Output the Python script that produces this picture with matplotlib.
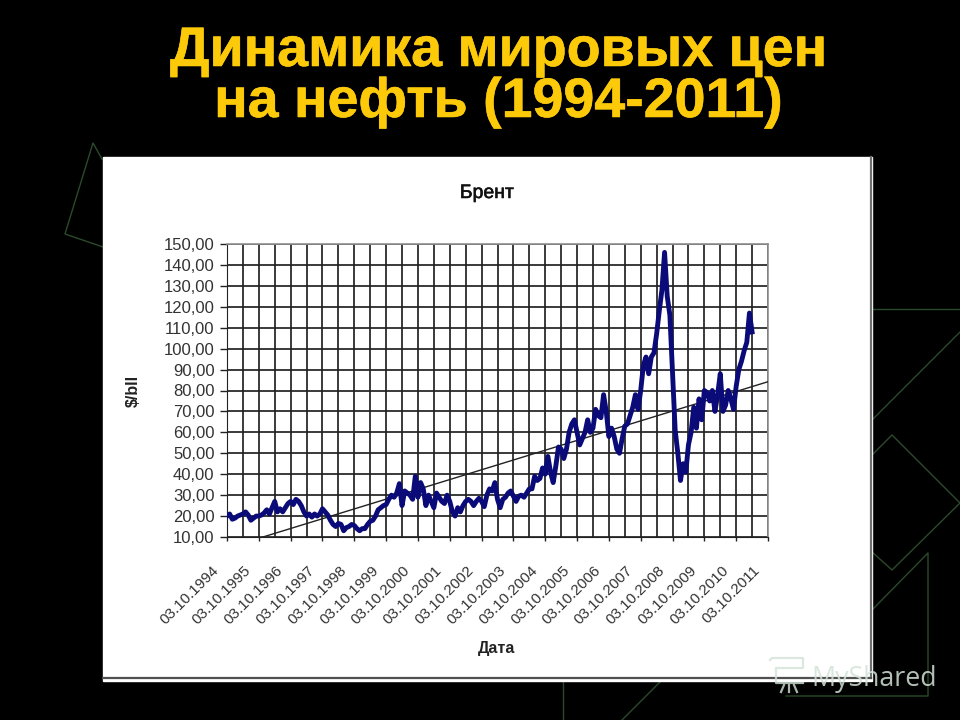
import numpy as np
import matplotlib
matplotlib.use("Agg")
import matplotlib.pyplot as plt
import matplotlib.patheffects as pe
from matplotlib.transforms import ScaledTranslation

plt.rcParams['font.family'] = ['Liberation Sans', 'DejaVu Sans']

title_lines = ["Динамика мировых цен", "на нефть (1994-2011)"]
chart_title = "Брент"
x_title = "Дата"
y_title = "$/bll"

# monthly Brent prices, starting at the first tick
prices = [
    20, 21, 18.5, 19, 20, 20.5, 21, 22, 20.5, 18, 19, 20, 20, 20.5, 21.5, 23, 21, 24, 27, 22,
    23.5, 22, 24, 26, 27, 25.5, 28, 27, 25, 22, 20, 21, 19.5, 21, 20, 21, 23.5, 22, 20.5, 18,
    16, 15, 16.5, 16, 13, 14.5, 15, 16, 15.5, 14, 13, 14, 14, 16, 17.5, 18, 20, 23, 24, 25,
    25.5, 28, 30, 29, 31, 35.5, 25, 32, 31, 30, 28, 39, 29, 36, 33, 25, 30, 27, 24, 31,
    29, 27, 26, 30, 27, 22, 20, 24, 22, 25, 27, 28, 27, 25, 27, 28.5, 27, 24.5, 30, 33,
    32, 36, 28, 24, 28, 29, 31, 32, 29.5, 27, 29.5, 30, 29, 31, 33, 33, 39, 37, 38, 43,
    40, 48.5, 41, 36, 44, 53, 52, 47.5, 52, 60, 64, 66, 60, 54, 57, 60, 66, 60, 62, 71,
    68, 67, 78, 70, 58, 62, 58, 52, 50, 57, 63, 64, 68, 72, 78, 71, 80, 92, 96, 88,
    96, 98, 107, 118, 128, 146, 125, 116, 88, 61, 50, 37, 45, 41, 54, 60, 72, 62, 76, 66,
    80, 79, 75, 80, 70, 78, 88, 70, 73, 80, 76, 71, 82, 90, 94, 99, 103, 117, 108,
]
start_year = 1994.75
trend_years = [1995.88, 2011.75]
trend_values = [10, 84.2]

y_ticks = list(range(10, 151, 10))
y_labels = ["%d,00" % v for v in y_ticks]
tick_years = [1994.75 + i for i in range(18)]
x_labels = ["03.10.%d" % (1994 + i) for i in range(18)]

W, H = 960, 720
fig = plt.figure(figsize=(W / 100, H / 100), dpi=100, facecolor='black')

# slide background in pixel coordinates
bg = fig.add_axes([0, 0, 1, 1])
bg.set_xlim(0, W)
bg.set_ylim(H, 0)
bg.axis('off')

dim_green = '#2b4a2b'
decor = [
    ([102, 93, 65, 103], [159, 143, 234, 247]),
    ([872, 960], [309, 309]),
    ([872, 960], [420, 332]),
    ([872, 892, 960, 892, 872], [455, 435, 503, 570, 552]),
    ([872, 928, 928, 786], [610, 553, 696, 696]),
    ([563, 563], [680, 720]),
    ([662, 622], [680, 720]),
]
for xs, ys in decor:
    bg.plot(xs, ys, color=dim_green, lw=1)

bg.fill([103, 872, 872, 103], [157, 157, 681, 681], color='white', zorder=2)
bg.plot([870.5, 870.5], [157, 678], color='#707070', lw=1.6, zorder=3)
bg.plot([103, 871], [677.5, 677.5], color='#505050', lw=1.6, zorder=3)

yellow = '#fdca0a'
for line, base in zip(title_lines, [66, 117]):
    bg.text(498, base, line, color=yellow, fontsize=40, fontweight='bold', ha='center',
            va='baseline', zorder=4,
            path_effects=[pe.withStroke(linewidth=0.4, foreground=yellow)])
bg.text(487, 198, chart_title, color='#111111', fontsize=14, ha='center', va='baseline',
        zorder=4, path_effects=[pe.withStroke(linewidth=0.4, foreground='#111111')])
bg.text(497, 653, x_title, color='#222222', fontsize=11.5, fontweight='bold',
        ha='center', va='baseline', zorder=4)
bg.text(133, 391, y_title, color='#222222', fontsize=11.5, fontweight='bold',
        ha='center', va='center', rotation=90, zorder=4)

# main chart
left, right, top, bottom = 227, 768, 244, 537
ax = fig.add_axes([left / W, 1 - bottom / H, (right - left) / W, (bottom - top) / H])
ax.set_facecolor('white')
ax.set_zorder(3)

years = start_year + np.arange(len(prices)) / 12
ax.plot(trend_years, trend_values, color='#222222', lw=1, zorder=3)
ax.plot(years, prices, color='#0a0a78', lw=3.5, solid_joinstyle='round', zorder=4)

ax.set_xlim(tick_years[0], tick_years[-1])
ax.set_ylim(10, 150)
ax.set_yticks(y_ticks)
ax.set_yticklabels(y_labels, fontsize=12, color='#333333')
ax.set_xticks(tick_years)
ax.set_xticklabels(x_labels, fontsize=11, color='#333333', rotation=45,
                   ha='right', va='top', rotation_mode='anchor')
ax.set_xticks([y + 0.5 for y in tick_years[:-1]], minor=True)
ax.grid(True, which='both', color='#222222', lw=1.25)
ax.set_axisbelow(True)
ax.tick_params(axis='y', length=5, width=1, color='#222222', pad=4)
ax.tick_params(axis='x', which='major', length=3, width=1, color='#222222', pad=16)
ax.tick_params(axis='x', which='minor', length=0)
shift = ScaledTranslation(-15 / 100, 0, fig.dpi_scale_trans)
for label in ax.get_xticklabels():
    label.set_transform(label.get_transform() + shift)
for side in ['left', 'bottom']:
    ax.spines[side].set_color('#222222')
for side in ['top', 'right']:
    ax.spines[side].set_color('#909090')
    ax.spines[side].set_linewidth(1.2)

# watermark
over = fig.add_axes([0, 0, 1, 1])
over.set_xlim(0, W)
over.set_ylim(H, 0)
over.axis('off')
over.set_zorder(5)
wm = '#d3e3d9'
over.text(811, 686, "MyShared", color=wm, fontsize=19.3, family='Open Sans', alpha=0.85, va='baseline')
over.plot([770, 772, 803, 803, 776, 776, 803], [660, 658, 658, 668, 668, 683, 683], color=wm, lw=1.6, alpha=0.8)
over.plot([784, 781], [685, 692], color=wm, lw=1.6, alpha=0.8)
over.plot([789, 789], [685, 692], color=wm, lw=1.6, alpha=0.8)
over.plot([794, 797], [685, 692], color=wm, lw=1.6, alpha=0.8)

fig.savefig('out.png', dpi=100, facecolor='black')
